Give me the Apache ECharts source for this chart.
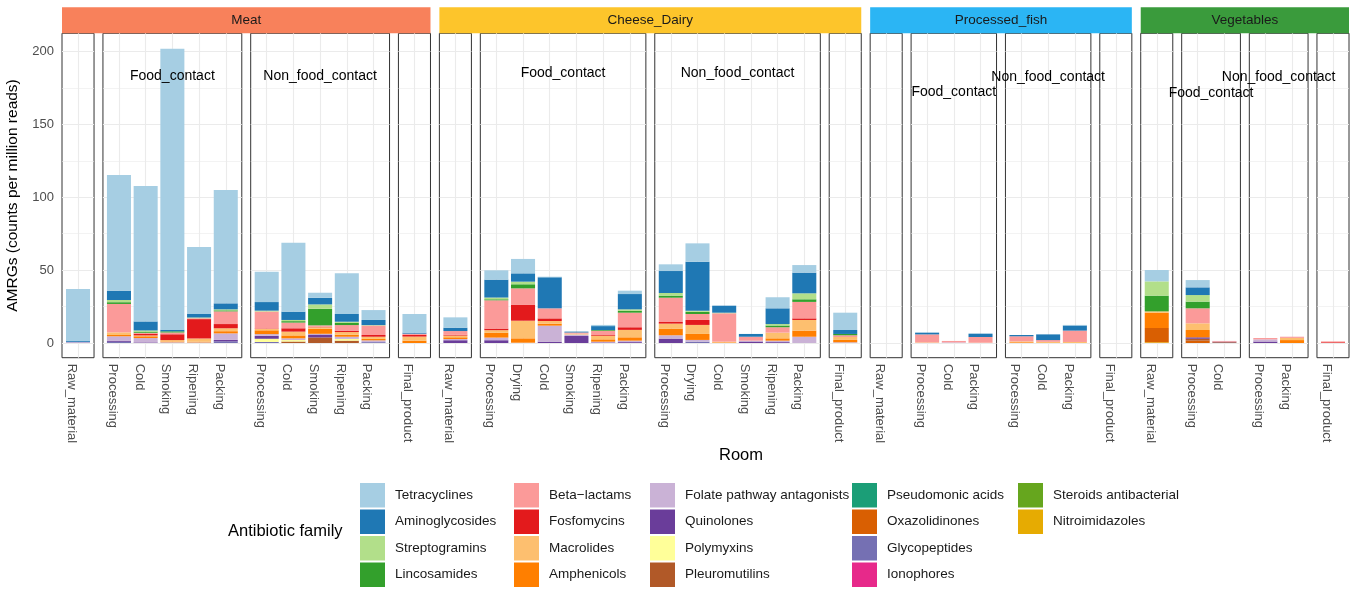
<!DOCTYPE html>
<html>
<head>
<meta charset="utf-8">
<script src="https://cdn.jsdelivr.net/npm/echarts@6/dist/echarts.min.js"></script>
<style>
  html, body { margin: 0; padding: 0; background: #fff; }
  #chart { width: 1357px; height: 592px; }
</style>
</head>
<body>
<div id="chart"></div>
<script>
// 分面与房间
const facets = ['Meat', 'Cheese_Dairy', 'Processed_fish', 'Vegetables'];
const facetColors = ['#F8815B', '#FDC52B', '#2BB5F4', '#3A9B3C'];
const groups = ['Raw_material', 'Food_contact', 'Non_food_contact', 'Final_product'];
const meatRooms = ['Processing', 'Cold', 'Smoking', 'Ripening', 'Packing'];
const dairyRooms = ['Processing', 'Drying', 'Cold', 'Smoking', 'Ripening', 'Packing'];
const fishRooms = ['Processing', 'Cold', 'Packing'];
const vegFoodRooms = ['Processing', 'Cold'];
const vegNonFoodRooms = ['Processing', 'Packing'];
const facetRooms = [
  [['Raw_material'], meatRooms, meatRooms, ['Final_product']],
  [['Raw_material'], dairyRooms, dairyRooms, ['Final_product']],
  [['Raw_material'], fishRooms, fishRooms, ['Final_product']],
  [['Raw_material'], vegFoodRooms, vegNonFoodRooms, ['Final_product']]
];

// 抗生素家族（图例顺序，第一个堆在最上面）
const families = ['Tetracyclines', 'Aminoglycosides', 'Streptogramins', 'Lincosamides',
  'Beta-lactams', 'Fosfomycins', 'Macrolides', 'Amphenicols',
  'Folate pathway antagonists', 'Quinolones', 'Polymyxins', 'Pleuromutilins',
  'Pseudomonic acids', 'Oxazolidinones', 'Glycopeptides', 'Ionophores',
  'Steroids antibacterial', 'Nitroimidazoles'];
const familyColors = ['#A6CEE3', '#1F78B4', '#B2DF8A', '#33A02C',
  '#FB9A99', '#E31A1C', '#FDBF6F', '#FF7F00',
  '#CAB2D6', '#6A3D9A', '#FFFF99', '#B15928',
  '#1B9E77', '#D95F02', '#7570B3', '#E7298A',
  '#66A61E', '#E6AB02'];

// 每个家族 40 根柱子的数值（按 facet -> group -> room 顺序）
const tetracyclines = [35.6, 79.4, 93, 193, 46, 77.8, 20.8, 47.3, 3.5, 27.9, 6.8, 12.8,
  7.1, 6.4, 9.9, 0.4, 0, 0.8, 2.3, 4.6, 12.6, 0, 0, 7.6, 5.2, 11.9,
  0, 0, 0, 0, 0, 0, 0.4, 0,
  7.8, 5.0, 0, 0, 0, 0];
const aminoglycosides = [0.6, 6.4, 6.2, 1.0, 2.4, 4.1, 5.9, 5.7, 4.5, 5.3, 3.5, 0.7,
  2.3, 12.3, 5.7, 21.3, 0.6, 2.7, 10.5, 15.1, 33.6, 4.8, 1.9, 10.8, 14.2, 2.7,
  0, 1.2, 0, 2.3, 0.9, 3.9, 3.5, 0,
  0, 5.3, 0, 0, 0, 0];
const streptogramins = [0, 1.5, 0.8, 0, 0.5, 0.7, 0.6, 0.8, 3.0, 0.8, 0.3, 0,
  0, 1.2, 1.8, 0, 0, 0, 1.0, 1.8, 0.8, 0.4, 0, 1.0, 4.1, 0,
  0, 0, 0, 0, 0, 0, 0, 0,
  9.8, 4.5, 0, 0, 0, 0];
const lincosamides = [0, 1.2, 0.8, 0.8, 0, 0.7, 0, 1.0, 11.4, 1.5, 0, 0,
  0, 0.7, 2.8, 0, 0, 0.5, 1.3, 1.4, 1.5, 0, 0, 1.2, 1.8, 0.9,
  0, 0, 0, 0, 0, 0, 0, 0,
  10.8, 4.6, 0, 0, 0, 0];
const betaLactams = [0, 19.5, 0.6, 1.2, 0.6, 8.7, 11.6, 3.9, 1.0, 3.8, 6.5, 0.8,
  2.6, 19.4, 11.4, 6.9, 0.8, 2.9, 10.0, 16.7, 4.1, 19.5, 2.7, 3.7, 11.3, 1.2,
  0, 5.5, 1.0, 3.9, 3.5, 1.2, 7.8, 0,
  0, 10.3, 0.5, 0.9, 0.8, 0.6];
const fosfomycins = [0, 0, 1.2, 4.0, 13.3, 2.9, 0.3, 2.3, 0.3, 1.0, 1.2, 1.2,
  0.5, 1.1, 10.8, 1.8, 0, 0.5, 1.8, 1.1, 3.4, 0, 0, 0, 1.1, 0,
  0, 0, 0, 0, 0, 0, 0, 0,
  0, 0, 0, 0, 0, 0.5];
const macrolides = [0, 1.8, 0.6, 1.0, 2.2, 2.0, 1.0, 2.6, 1.0, 1.8, 1.5, 2.8,
  1.2, 1.8, 12.1, 1.8, 0.6, 2.5, 5.1, 3.4, 6.2, 0.5, 0, 3.9, 7.3, 2.0,
  0, 0.4, 0, 0.2, 0.6, 0.8, 0.7, 0,
  1.0, 4.6, 0, 0, 1.5, 0];
const amphenicols = [0, 0.9, 1.2, 0.5, 0.5, 1.5, 2.6, 2.0, 3.5, 1.4, 1.0, 1.6,
  1.2, 3.3, 3.0, 1.4, 0, 1.6, 2.3, 4.6, 4.1, 0.4, 0, 1.6, 4.2, 1.6,
  0, 0, 0, 0, 0.5, 0, 0, 0,
  10.4, 5.0, 0, 0, 2.0, 0];
const folate = [0.4, 3.2, 3.0, 0.5, 0.4, 4.5, 1.2, 1.2, 0.5, 1.5, 1.2, 0,
  0.8, 1.8, 0.2, 11.0, 1.0, 0.5, 1.0, 2.3, 1.2, 0, 0.6, 1.0, 4.3, 0.5,
  0, 0, 0.4, 0, 0, 0, 0, 0,
  0, 0, 0, 1.5, 0, 0];
const quinolones = [0, 0.6, 0.4, 0, 0, 1.0, 2.0, 0, 2.0, 0, 0, 0,
  1.9, 1.9, 0, 0.9, 4.8, 0.4, 0.6, 3.0, 0, 0, 1.0, 0.6, 0, 0,
  0, 0, 0, 0, 0, 0, 0, 0,
  0, 1.0, 0.4, 1.0, 0, 0];
const polymyxins = [0, 0, 0, 0, 0, 0, 2.2, 1.0, 0, 1.2, 0, 0,
  0, 0, 0, 0, 0, 0, 0, 0, 0, 0, 0, 0, 0, 0,
  0, 0, 0, 0, 0, 0, 0, 0,
  0, 0, 0, 0, 0, 0];
const pleuromutilins = [0, 0, 0, 0, 0, 0, 0, 1.0, 3.8, 1.6, 0, 0,
  0, 0, 0, 0, 0, 0, 0, 0, 0, 0, 0, 0, 0, 0,
  0, 0, 0, 0, 0, 0, 0, 0,
  0, 1.3, 0.5, 0, 0, 0];
const pseudomonic = [0, 0, 0, 0, 0, 0, 0, 0, 0, 0, 0, 0,
  0, 0, 0, 0, 0, 0, 0, 0, 0, 0, 0, 0, 0, 0,
  0, 0, 0, 0, 0, 0, 0, 0,
  0, 0, 0, 0, 0, 0];
const oxazolidinones = [0, 0, 0, 0, 0, 0, 0, 0, 0, 0, 0, 0,
  0, 0, 0, 0, 0, 0, 0, 0, 0, 0, 0, 0, 0, 0,
  0, 0, 0, 0, 0, 0, 0, 0,
  9.8, 1.6, 0, 0, 0, 0];
const glycopeptides = [0.4, 0.8, 0, 0, 0, 1.1, 0.7, 0, 0, 0, 0.6, 0,
  0, 0, 0, 0, 0, 0, 0, 0, 0.9, 0, 0, 0, 0, 0,
  0, 0, 0, 0, 0, 0, 0, 0,
  0, 0, 0, 0, 0, 0];
const ionophores = [0, 0, 0, 0, 0, 0, 0, 0, 0, 0, 0, 0,
  0, 0, 0, 0, 0, 0, 0, 0, 0, 0, 0, 0, 0, 0,
  0, 0, 0, 0, 0, 0, 0, 0,
  0, 0, 0, 0, 0, 0];
const steroids = [0, 0, 0, 0, 0, 0, 0, 0, 0, 0, 0, 0,
  0, 0, 0, 0, 0, 0, 0, 0, 0, 0, 0, 0, 0, 0,
  0, 0, 0, 0, 0, 0, 0, 0,
  0, 0, 0, 0, 0, 0];
const nitroimidazoles = [0, 0, 0, 0, 0, 0, 0, 0, 0, 0, 0, 0,
  0, 0, 0, 0, 0, 0, 0, 0, 0, 0, 0, 0, 0, 0,
  0, 0, 0, 0, 0, 0, 0, 0,
  0.5, 0, 0, 0, 0, 0];
const familyValues = [tetracyclines, aminoglycosides, streptogramins, lincosamides,
  betaLactams, fosfomycins, macrolides, amphenicols,
  folate, quinolones, polymyxins, pleuromutilins,
  pseudomonic, oxazolidinones, glycopeptides, ionophores,
  steroids, nitroimidazoles];

// 坐标轴刻度
const yTicks = [0, 50, 100, 150, 200];
const yMinor = [25, 75, 125, 175];

// 版面
const FONT = 'Liberation Sans';
const PLOT_LEFT = 62, PLOT_RIGHT = 1349, PANEL_GAP = 8.9;
const PANEL_TOP = 33.3, PANEL_BOTTOM = 357.7, STRIP_TOP = 7.3;
const Y_MIN = -10.1, Y_MAX = 212.6;
// 组标签的像素高度（Food_contact, Non_food_contact）
const groupLabelY = [[76, 76], [73, 73], [92, 77], [93, 77]];
const legendLeft = [360, 514, 650, 852, 1018];

let nCats = 0, nBoxes = 0;
facetRooms.forEach(f => f.forEach(r => { nCats += r.length; nBoxes++; }));
const unit = (PLOT_RIGHT - PLOT_LEFT - PANEL_GAP * (nBoxes - 1)) / (nCats + 0.2 * nBoxes);

const grids = [], xAxes = [], yAxes = [], series = [], graphics = [];
let x = PLOT_LEFT, idx = 0;

facets.forEach((facet, fi) => {
  const fStart = x;
  groups.forEach((grp, gi) => {
    const rooms = facetRooms[fi][gi];
    const n = rooms.length;
    const w = (n + 0.2) * unit;
    const idxs = rooms.map((r, i) => i);

    // 外框面板：边框、刻度、标签、网格线
    const p = grids.length;
    grids.push({
      left: x, top: PANEL_TOP, width: w, height: PANEL_BOTTOM - PANEL_TOP,
      show: true, borderColor: '#333', borderWidth: 1, backgroundColor: '#fff'
    });
    xAxes.push({
      type: 'value', gridIndex: p, min: -0.6, max: n - 0.4,
      axisLine: { show: false }, splitLine: { show: false },
      axisTick: { show: true, customValues: idxs, length: 4, lineStyle: { color: '#333' } },
      axisLabel: {
        show: true, customValues: idxs, rotate: -90, margin: 6,
        verticalAlign: 'top',
        color: '#4D4D4D', fontSize: 13, fontFamily: FONT,
        formatter: v => rooms[Math.round(v)]
      }
    });
    yAxes.push({
      type: 'value', gridIndex: p, min: Y_MIN, max: Y_MAX,
      axisLine: { show: false }, splitLine: { show: false },
      axisTick: { show: p === 0, customValues: yTicks, length: 4, lineStyle: { color: '#333' } },
      axisLabel: { show: p === 0, customValues: yTicks, margin: 8, color: '#4D4D4D', fontSize: 13, fontFamily: FONT }
    });
    series.push({
      type: 'line', xAxisIndex: p, yAxisIndex: p, data: [], silent: true, z: 1,
      markLine: {
        silent: true, z: 1, symbol: ['none', 'none'], animation: false,
        label: { show: false }, emphasis: { disabled: true },
        data: [].concat(
          yMinor.map(v => ({ yAxis: v, lineStyle: { color: '#EBEBEB', width: 0.6, type: 'solid' } })),
          yTicks.map(v => ({ yAxis: v, lineStyle: { color: '#EBEBEB', width: 1.1, type: 'solid' } })),
          idxs.map(v => ({ xAxis: v, lineStyle: { color: '#EBEBEB', width: 1.1, type: 'solid' } }))
        )
      }
    });

    // 内部柱状网格：类目轴，左右各留 0.1 个类目宽
    const b = grids.length;
    grids.push({ left: x + 0.1 * unit, top: PANEL_TOP, width: n * unit, height: PANEL_BOTTOM - PANEL_TOP, show: false });
    xAxes.push({ type: 'category', gridIndex: b, data: rooms, show: false });
    yAxes.push({ type: 'value', gridIndex: b, min: Y_MIN, max: Y_MAX, show: false, splitLine: { show: false } });
    // 倒序加入，让 Tetracyclines 在最上面
    for (let k = families.length - 1; k >= 0; k--) {
      series.push({
        type: 'bar', name: families[k], xAxisIndex: b, yAxisIndex: b,
        stack: 'p' + b, barWidth: '90%', z: 2,
        itemStyle: { color: familyColors[k] },
        data: familyValues[k].slice(idx, idx + n)
      });
    }

    // 组标签
    if (gi === 1 || gi === 2) {
      graphics.push({
        type: 'text', z: 100, x: x + w / 2, y: groupLabelY[fi][gi - 1],
        style: { text: grp, fill: '#000', font: '14px ' + FONT, align: 'center', verticalAlign: 'middle', textAlign: 'center', textVerticalAlign: 'middle' }
      });
    }
    idx += n;
    x += w + PANEL_GAP;
  });
  const fEnd = x - PANEL_GAP;
  graphics.push({
    type: 'rect', z: 50, shape: { x: fStart, y: STRIP_TOP, width: fEnd - fStart, height: PANEL_TOP - STRIP_TOP },
    style: { fill: facetColors[fi], stroke: null }
  });
  graphics.push({
    type: 'text', z: 51, x: (fStart + fEnd) / 2, y: (STRIP_TOP + PANEL_TOP) / 2,
    style: { text: facet, fill: '#1A1A1A', font: '13.5px ' + FONT, align: 'center', verticalAlign: 'middle', textAlign: 'center', textVerticalAlign: 'middle' }
  });
});

// 轴标题与图例标题
graphics.push({
  type: 'text', z: 51, x: 13, y: (PANEL_TOP + PANEL_BOTTOM) / 2, rotation: Math.PI / 2,
  style: { text: 'AMRGs (counts per million reads)', fill: '#000', font: '15.5px ' + FONT, align: 'center', verticalAlign: 'middle', textAlign: 'center', textVerticalAlign: 'middle' }
});
graphics.push({
  type: 'text', z: 51, x: 741, y: 455,
  style: { text: 'Room', fill: '#000', font: '16.5px ' + FONT, align: 'center', verticalAlign: 'middle', textAlign: 'center', textVerticalAlign: 'middle' }
});
graphics.push({
  type: 'text', z: 51, x: 228, y: 531,
  style: { text: 'Antibiotic family', fill: '#000', font: '16.5px ' + FONT, align: 'left', verticalAlign: 'middle', textAlign: 'left', textVerticalAlign: 'middle' }
});

// 图例按列拆成 5 个
const legends = legendLeft.map((left, c) => ({
  orient: 'vertical', left: left, top: 483, padding: 0,
  itemWidth: 25, itemHeight: 24.5, itemGap: 2, icon: 'rect',
  selectedMode: false,
  data: families.slice(c * 4, c * 4 + 4),
  formatter: name => name.replace('-', '\u2212'),
  textStyle: { fontSize: 13.5, color: '#1A1A1A', fontFamily: FONT, padding: [0, 0, 0, 5] },
  itemStyle: { borderWidth: 0 }
}));

const chart = echarts.init(document.getElementById('chart'));
chart.setOption({
  animation: false,
  textStyle: { fontFamily: FONT },
  grid: grids,
  xAxis: xAxes,
  yAxis: yAxes,
  legend: legends,
  series: series,
  graphic: { elements: graphics }
});
</script>
</body>
</html>
